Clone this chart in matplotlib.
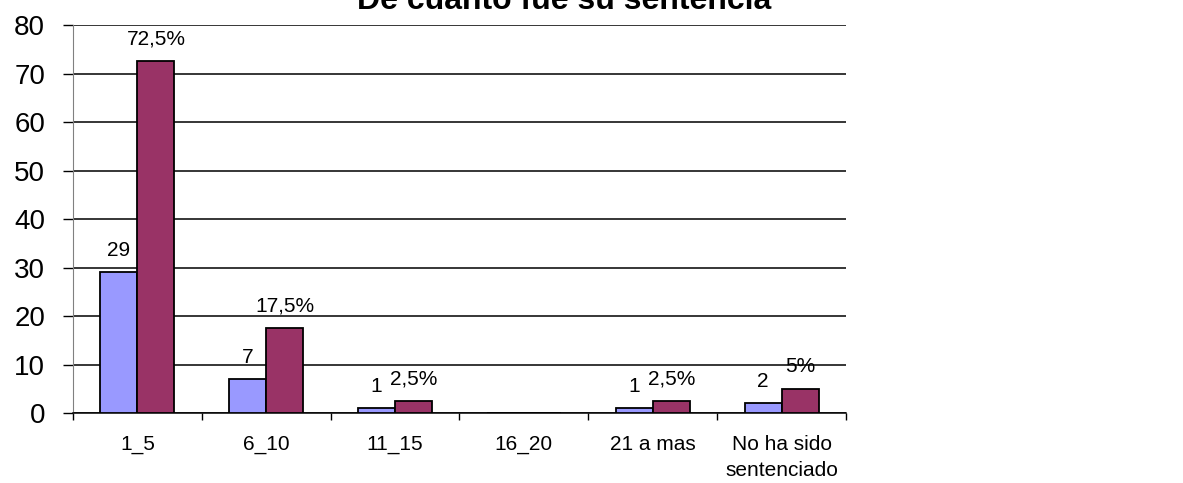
import matplotlib
matplotlib.use("Agg")
import matplotlib.pyplot as plt
import numpy as np

plt.rcParams["font.family"] = ["Liberation Sans", "DejaVu Sans"]

# Datos
categorias = ["1_5", "6_10", "11_15", "16_20", "21 a mas", "No ha sido\nsentenciado"]
frecuencia = [29, 7, 1, 0, 1, 2]
porcentaje = [72.5, 17.5, 2.5, 0, 2.5, 5]
etiq_frec = ["29", "7", "1", "", "1", "2"]
etiq_pct = ["72,5%", "17,5%", "2,5%", "", "2,5%", "5%"]

fig = plt.figure(figsize=(11.83, 4.83), dpi=100)
ax = fig.add_axes([0.0617, 0.1449, 0.6534, 0.8031])

x = np.arange(len(categorias))
w = 0.287
b1 = ax.bar(x - w / 2, frecuencia, w, color="#9999FF", edgecolor="black", linewidth=1.3, zorder=3)
b2 = ax.bar(x + w / 2, porcentaje, w, color="#993366", edgecolor="black", linewidth=1.3, zorder=3)

# etiquetas de datos
for rect, t in zip(b1, etiq_frec):
    if t:
        ax.annotate(t, (rect.get_x() + rect.get_width() / 2, rect.get_height()),
                    xytext=(0, 9), textcoords="offset points",
                    ha="center", va="bottom", fontsize=15)
for rect, t in zip(b2, etiq_pct):
    if t:
        ax.annotate(t, (rect.get_x() + rect.get_width() / 2, rect.get_height()),
                    xytext=(0, 9), textcoords="offset points",
                    ha="center", va="bottom", fontsize=15)

ax.set_xlim(-0.5, len(categorias) - 0.5)
ax.set_ylim(0, 80)
ax.set_yticks(range(0, 81, 10))
ax.yaxis.grid(True, color="black", linewidth=1.1, zorder=0)
ax.tick_params(axis="y", labelsize=20, length=7, width=1, pad=13, color="black")

# ticks del eje x en los limites de categoria
ax.set_xticks(np.arange(-0.5, len(categorias), 1))
ax.set_xticklabels([])
ax.set_xticks(x, minor=True)
ax.set_xticklabels(categorias, minor=True, fontsize=15, linespacing=1.45)
ax.tick_params(axis="x", which="major", length=5, width=1, color="black")
ax.tick_params(axis="x", which="minor", length=0, pad=16)

for s in ["top", "right"]:
    ax.spines[s].set_visible(False)
ax.spines["left"].set_color("#808080")
ax.spines["bottom"].set_color("black")
ax.spines["bottom"].set_linewidth(1.1)
ax.set_axisbelow(True)

fig.text(0.4768, 0.981, "De cuanto fue su sentencia", ha="center", va="baseline",
         fontsize=23, fontweight="bold")

fig.savefig("out.png", dpi=100)
